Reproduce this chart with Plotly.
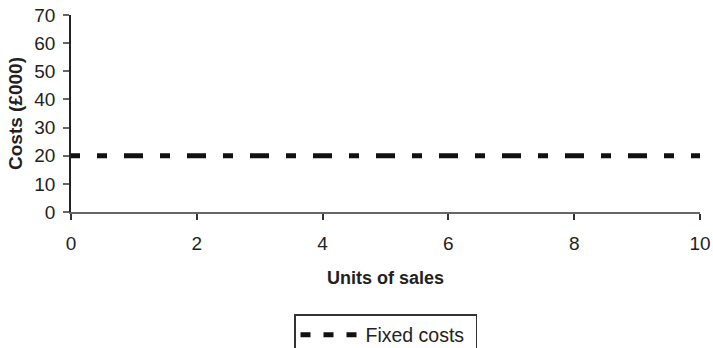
import plotly.graph_objects as go

# Break-even chart: fixed costs only
units = [0, 10]
fixed_costs = [20, 20]

x_ticks = [0, 2, 4, 6, 8, 10]
y_ticks = [0, 10, 20, 30, 40, 50, 60, 70]

FONT = "Liberation Sans, Arial, sans-serif"
TEXT = "#231f20"

# Alternating short/long dash pattern, phase-shifted so it starts mid-dash
dash_seq = [9, 17, 10, 17] + [19, 17, 10, 17] * 11
line_dash = ",".join(f"{d}px" for d in dash_seq)

fig = go.Figure()
fig.add_trace(go.Scatter(
    x=units, y=fixed_costs, mode="lines", name="Fixed costs",
    line=dict(color="#111111", width=5, dash=line_dash),
    legendgroup="fc", showlegend=False,
))
# Legend entry with its own even dash
fig.add_trace(go.Scatter(
    x=[None], y=[None], mode="lines", name="Fixed costs ",
    line=dict(color="#111111", width=5, dash="10px,13px"),
    legendgroup="fc", showlegend=True,
))

fig.update_layout(
    width=713, height=348,
    margin=dict(l=71, r=13, t=15, b=136, autoexpand=False),
    paper_bgcolor="white", plot_bgcolor="white",
    font=dict(family=FONT, size=19, color=TEXT),
    legend=dict(
        x=0.5, xanchor="center", y=-0.518, yanchor="top",
        bordercolor="#333333", borderwidth=1.5, bgcolor="white",
        font=dict(family=FONT, size=19.5, color=TEXT),
        itemwidth=60,
    ),
)
fig.update_xaxes(
    range=[0, 10], tickvals=x_ticks, ticktext=[str(v) for v in x_ticks],
    showline=True, linecolor="#666666", linewidth=1.5,
    ticks="outside", ticklen=6, tickwidth=1.5, tickcolor="#333333",
    showgrid=False, zeroline=False, ticklabelstandoff=7,
    tickfont=dict(family=FONT, size=19, color=TEXT),
    title=dict(text="<b>Units of sales</b>", standoff=19,
               font=dict(family=FONT, size=18, color=TEXT)),
)
fig.update_yaxes(
    range=[0, 70], tickvals=y_ticks, ticktext=[str(v) for v in y_ticks],
    showline=True, linecolor="#222222", linewidth=1.5,
    ticks="outside", ticklen=6, tickwidth=1.5, tickcolor="#666666",
    showgrid=False, zeroline=False, ticklabelstandoff=4,
    tickfont=dict(family=FONT, size=19, color=TEXT),
    title=dict(text="<b>Costs (£000)</b>", standoff=7,
               font=dict(family=FONT, size=19, color=TEXT)),
)

fig.write_html("out.html")
